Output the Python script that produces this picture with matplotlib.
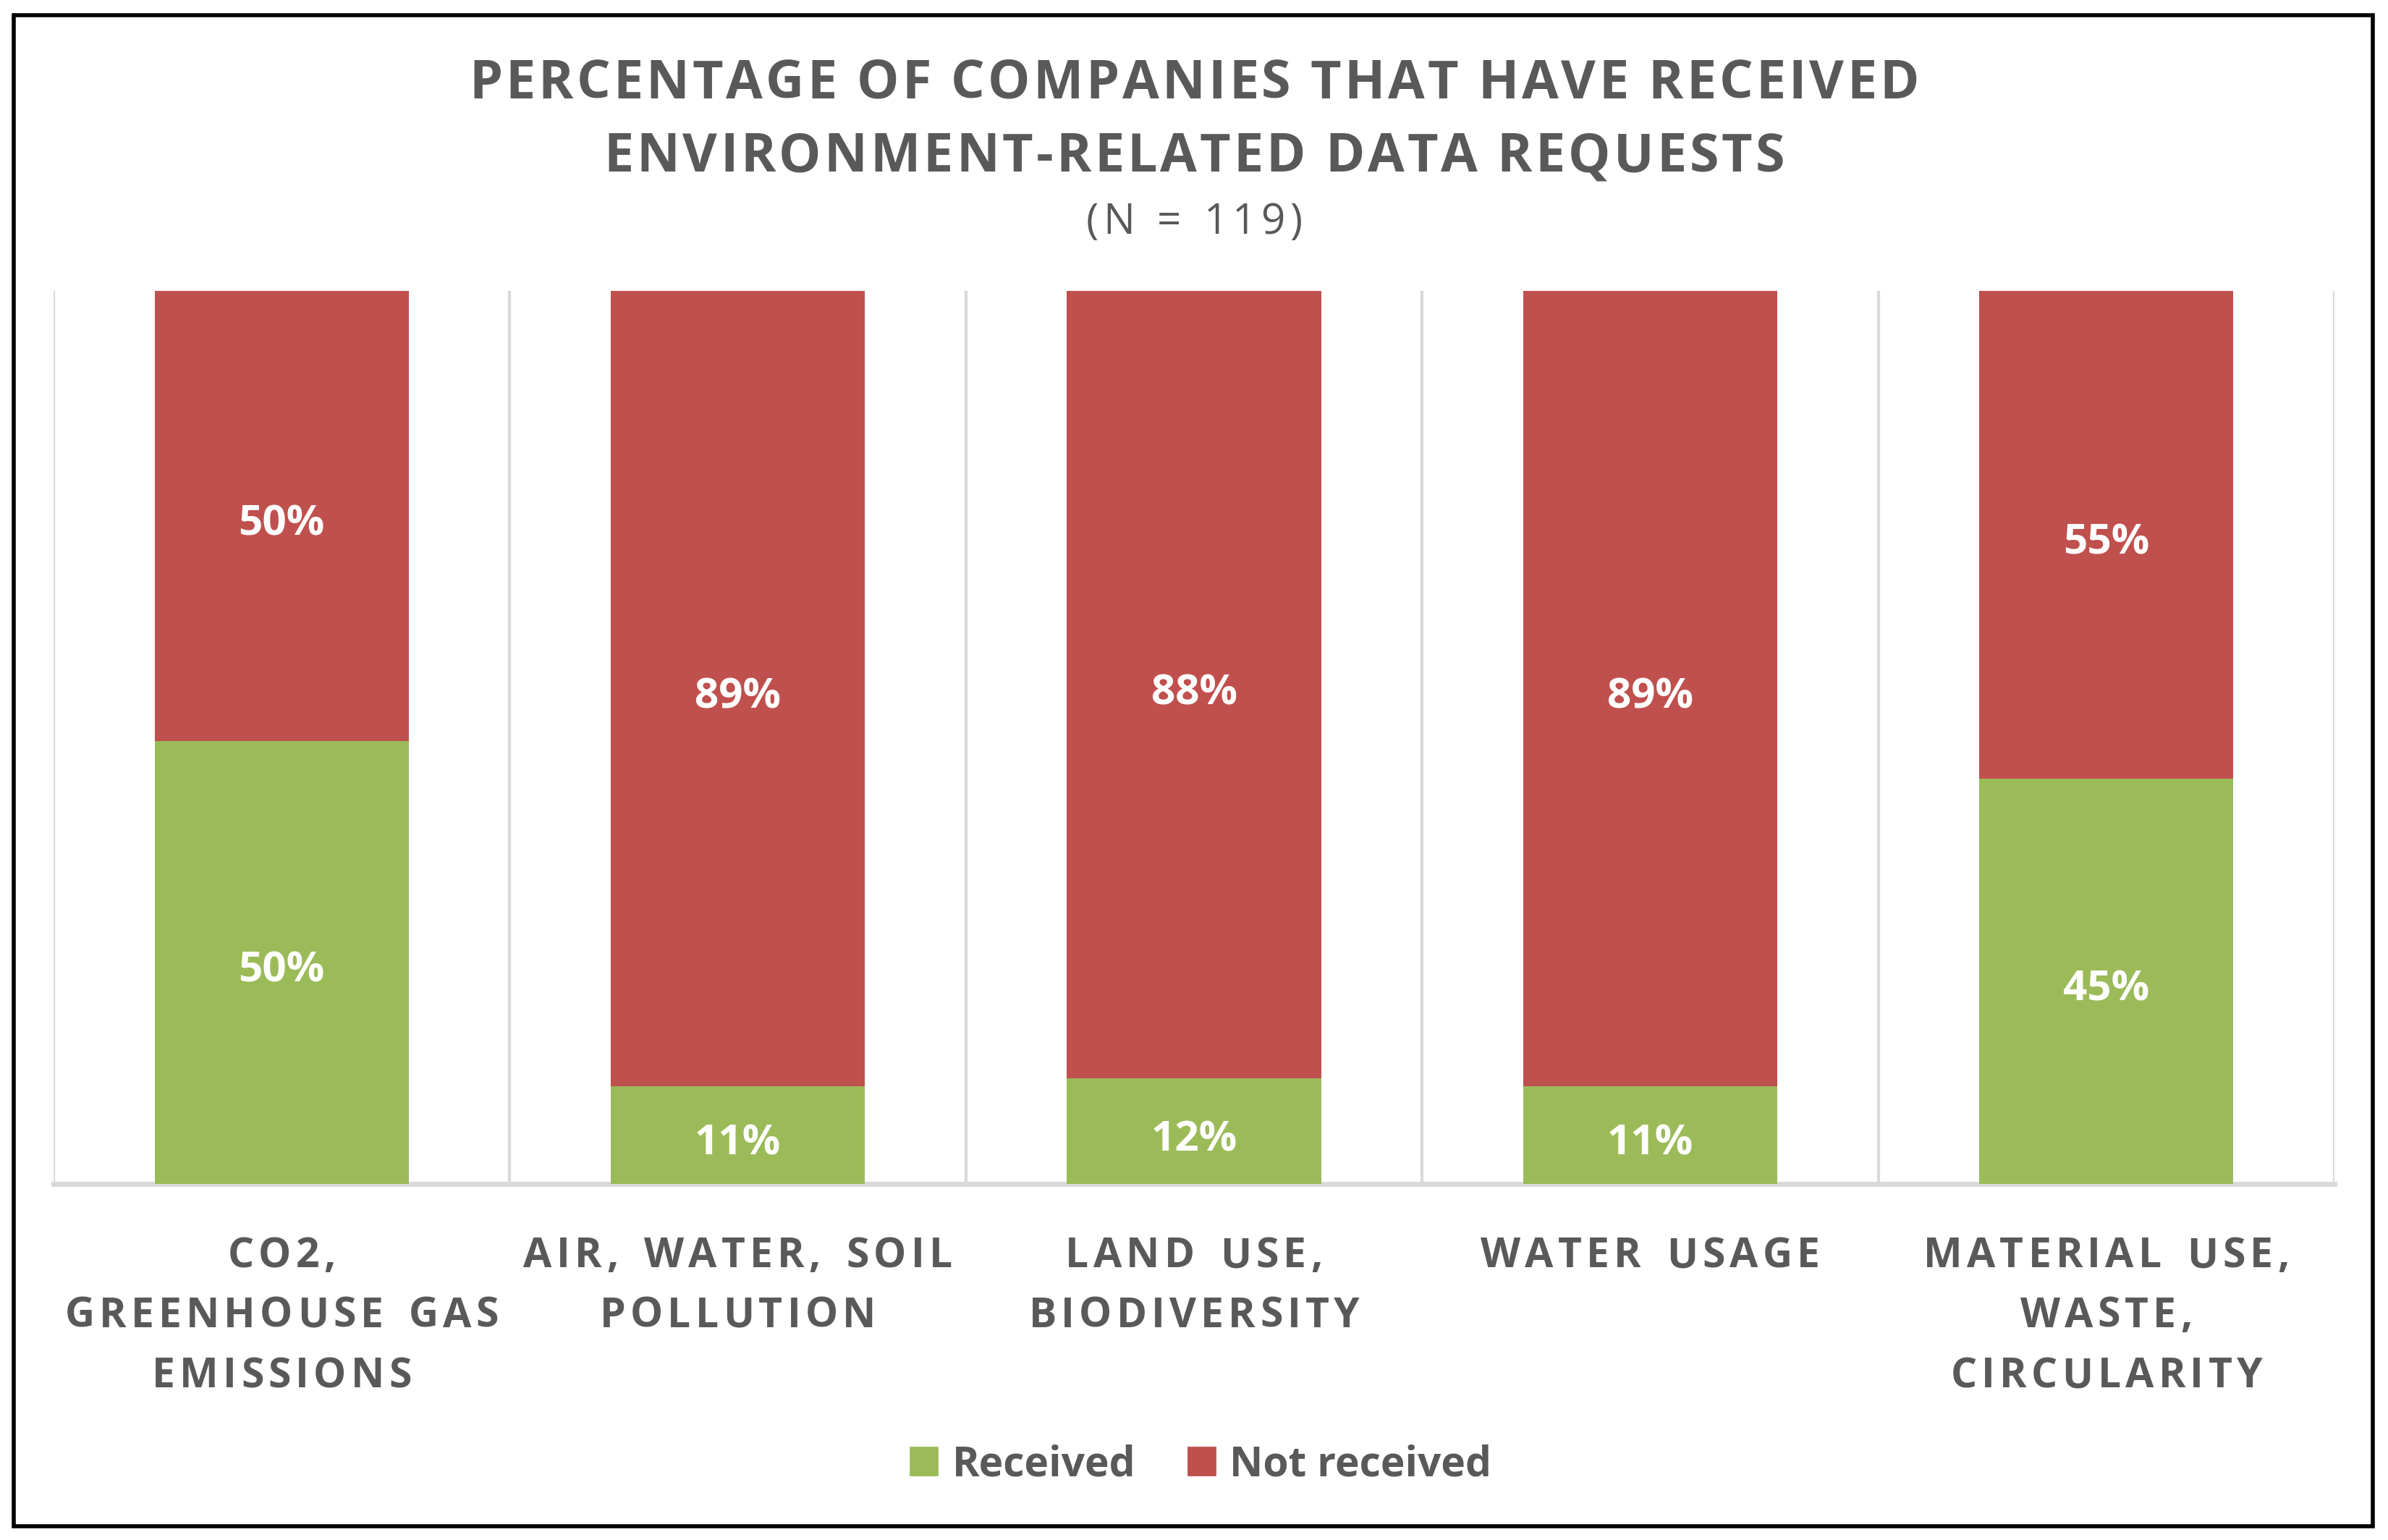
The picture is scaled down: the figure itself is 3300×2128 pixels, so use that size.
import numpy as np
import matplotlib
matplotlib.use('Agg')
import matplotlib.pyplot as plt
from matplotlib.patches import Rectangle, Patch
from matplotlib.font_manager import FontProperties, findfont
from matplotlib.ft2font import FT2Font
from matplotlib.transforms import offset_copy

plt.rcParams['font.family'] = ['Open Sans', 'DejaVu Sans']

# data (share of N = 119 companies, in %)
categories = ['CO2,\nGREENHOUSE GAS\nEMISSIONS', 'AIR, WATER, SOIL\nPOLLUTION',
              'LAND USE,\nBIODIVERSITY', 'WATER USAGE',
              'MATERIAL USE,\nWASTE,\nCIRCULARITY']
received = [49.6, 10.9, 11.8, 10.9, 45.4]
not_received = [50.4, 89.1, 88.2, 89.1, 54.6]
received_lbl = ['50%', '11%', '12%', '11%', '45%']
not_received_lbl = ['50%', '89%', '88%', '89%', '55%']
title_lines = ['PERCENTAGE OF COMPANIES THAT HAVE RECEIVED',
               'ENVIRONMENT-RELATED DATA REQUESTS']
subtitle = '(N = 119)'

green = '#9BBB59'
red = '#C0504D'
txt = '#595959'
grid = '#D9D9D9'

W, H, DPI = 3300, 2128, 200
fig = plt.figure(figsize=(W / DPI, H / DPI), dpi=DPI)


def tracked(cx, base_y, s, size, weight, track, space_extra=0.0, color=txt):
    """centred text with extra letter spacing, positions in pixels from top-left"""
    font = FT2Font(findfont(FontProperties(family='Open Sans', weight=weight)))
    font.set_size(size, DPI)
    adv = [font.load_char(ord(c)).linearHoriAdvance / 65536 for c in s]
    total = sum(adv) + track * (len(s) - 1) + space_extra * s.count(' ')
    pen = cx - total / 2
    for c, a in zip(s, adv):
        if c != ' ':
            fig.text(pen / W, 1 - base_y / H, c, ha='left', va='baseline',
                     fontsize=size, fontweight=weight, color=color)
        pen += a + track + (space_extra if c == ' ' else 0)


# plot area in pixels -> figure fractions
left, right, top, bottom = 74, 3226, 402, 1636
ax = fig.add_axes([left / W, 1 - bottom / H, (right - left) / W, (bottom - top) / H])

x = np.arange(len(categories))
ax.bar(x, received, width=0.557, color=green, zorder=3, label='Received')
ax.bar(x, not_received, width=0.557, bottom=received, color=red, zorder=3,
       label='Not received')

ax.set_xlim(-0.5, len(x) - 0.5)
ax.set_ylim(0, 100)
ax.set_yticks([])
ax.set_xticks([])
# separators between categories
for s in np.arange(-0.5, len(x), 1.0):
    ax.axvline(s, color=grid, lw=1.5, zorder=1)
for sp in ['top', 'left', 'right']:
    ax.spines[sp].set_visible(False)
ax.spines['bottom'].set_color(grid)
ax.spines['bottom'].set_linewidth(2.5)

# labels in the middle of each segment (baseline shifted so caps look centred)
lbl_tr = offset_copy(ax.transData, fig=fig, y=-27, units='dots')
for i in range(len(x)):
    ax.text(x[i], received[i] / 2, received_lbl[i], ha='center', va='baseline',
            color='white', fontsize=21, fontweight='bold', zorder=4, transform=lbl_tr)
    ax.text(x[i], received[i] + not_received[i] / 2, not_received_lbl[i], ha='center',
            va='baseline', color='white', fontsize=21, fontweight='bold', zorder=4,
            transform=lbl_tr)

# category labels under the bars
for i, c in enumerate(categories):
    cx = ax.transData.transform((x[i], 0))[0]
    for j, line in enumerate(c.split('\n')):
        tracked(cx, 1751 + 83 * j, line, 20.5, 'bold', 6.2, 8)

# title
tracked(W / 2, 136, title_lines[0], 26.5, 'bold', 4.0)
tracked(W / 2, 237, title_lines[1], 26.5, 'bold', 4.0)
tracked(W / 2, 323, subtitle, 21, 'normal', 6.0, 4)

# legend
handles = [Patch(color=green, label='Received'), Patch(color=red, label='Not received')]
leg = fig.legend(handles=handles, loc='center', bbox_to_anchor=(0.503, 1 - 2024 / H),
                 ncol=2, frameon=False, fontsize=20.5, handlelength=0.65, handleheight=0.65,
                 handletextpad=0.36, columnspacing=1.27, borderpad=0)
for t in leg.get_texts():
    t.set_color(txt)
    t.set_fontweight('bold')

# outer frame
fig.patches.append(Rectangle((19 / W, 1 - 2109 / H), (3279 - 19) / W, (2109 - 21) / H,
                             transform=fig.transFigure, fill=False, edgecolor='black', lw=2))

fig.savefig('out.png', dpi=DPI)
